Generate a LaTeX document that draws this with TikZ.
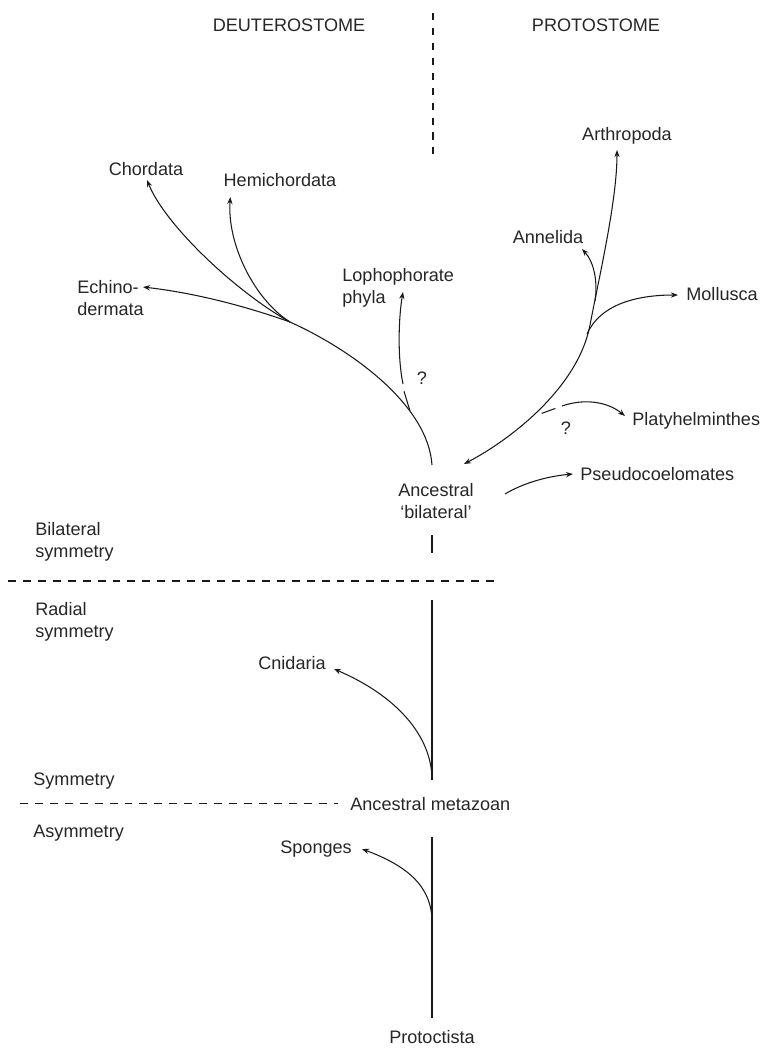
\documentclass[tikz,border=0pt]{standalone}
\usepackage{fontspec}
\setmainfont{Liberation Sans}
\usetikzlibrary{arrows.meta}
\newcommand{\twolines}[2][l]{\begin{tabular}[t]{@{}#1@{}}#2\end{tabular}}
\begin{document}
\begin{tikzpicture}[
    x=0.02cm, y=-0.02cm,
    taxon/.style={font=\fontsize{10.3}{12.6}\selectfont, text=black!85, inner sep=0pt},
    branch/.style={line width=0.6pt, black!90},
    arr/.style={branch, -{Stealth[length=4pt,width=3pt]}},
    divider/.style={line width=0.6pt, black!90, dash pattern=on 4.5pt off 4pt}
]
    \useasboundingbox (0,0) rectangle (766,1049);

    % Headings and the split
    \node[taxon, anchor=base] (deut) at (289,31) {DEUTEROSTOME};
    \node[taxon, anchor=base] (prot) at (596,31) {PROTOSTOME};
    \draw[divider, dash pattern=on 4pt off 4.5pt] (433,13) -- (433,155);

    % Taxa
    \node[taxon, anchor=base] (chor) at (146,175) {Chordata};
    \node[taxon, anchor=base] (hemi) at (280,186) {Hemichordata};
    \node[taxon, anchor=base west] (echi) at (77,293) {\twolines{Echino-\\dermata}};
    \node[taxon, anchor=base west] (loph) at (342,281) {\twolines{Lophophorate\\phyla}};
    \node[taxon, anchor=base] (q1) at (422,384) {?};
    \node[taxon, anchor=base] (arth) at (627,140) {Arthropoda};
    \node[taxon, anchor=base] (anne) at (548,243) {Annelida};
    \node[taxon, anchor=base west] (moll) at (686,300) {Mollusca};
    \node[taxon, anchor=base west] (plat) at (632,425) {Platyhelminthes};
    \node[taxon, anchor=base] (q2) at (566,434) {?};
    \node[taxon, anchor=base west] (pseu) at (580,480) {Pseudocoelomates};
    \node[taxon, anchor=base] (anbi) at (436,496) {\twolines[c]{Ancestral\\`bilateral'}};
    \node[taxon, anchor=base west] (cnid) at (258,669) {Cnidaria};
    \node[taxon, anchor=base west] (anme) at (350,810) {Ancestral metazoan};
    \node[taxon, anchor=base west] (spon) at (280,853) {Sponges};
    \node[taxon, anchor=base] (prtc) at (432,1043) {Protoctista};

    % Body plan levels
    \node[taxon, anchor=base west] (bila) at (35,535) {\twolines{Bilateral\\symmetry}};
    \node[taxon, anchor=base west] (radi) at (35,615) {\twolines{Radial\\symmetry}};
    \node[taxon, anchor=base west] (symm) at (33,785) {Symmetry};
    \node[taxon, anchor=base west] (asym) at (33,837) {Asymmetry};
    \draw[divider] (8,581) -- (497,581);
    \draw[divider] (20,0 |- anme.west) -- ([shift={(-12,0)}]anme.west);

    % Branch points
    \coordinate (djn) at (290,322);
    \coordinate (pjn) at (590,325);
    \coordinate (lophb) at (410,411);
    \coordinate (lophm) at (403,388);
    \coordinate (platb) at (540,414);
    \coordinate (platm) at (562,406);

    % Deuterostome side
    \draw[branch] ([shift={(-4,-31)}]anbi.base) .. controls (428,405) and (352,350) .. (djn);
    \draw[arr] (djn) .. controls (236,292) and (165,225) .. ([shift={(1,5)}]chor.base);
    \draw[arr] (djn) .. controls (255,300) and (227,245) .. ([shift={(7,11)}]hemi.base west);
    \draw[arr] (djn) .. controls (245,306) and (195,293) .. ([shift={(66,-6)}]echi.base west);
    \draw[branch, shorten >=2pt] (lophb) -- (lophm);
    \draw[arr] ([shift={(0,-4)}]lophm) .. controls (397,355) and (399,315) .. ([shift={(61,11)}]loph.base west);

    % Protostome side
    \draw[branch, {Stealth[length=4pt,width=3pt]}-{Stealth[length=4pt,width=3pt]}]
        ([shift={(28,-32)}]anbi.base) .. controls (510,440) and (578,388) .. (pjn)
        .. controls (600,273) and (617,200) .. ([shift={(-10,10)}]arth.base);
    \draw[arr] (595,301) .. controls (598,282) and (594,262) .. ([shift={(34,6)}]anne.base);
    \draw[arr] (587,334) .. controls (600,305) and (635,295) .. ([shift={(-8,-5)}]moll.base west);
    \draw[branch, shorten <=1pt, shorten >=4pt] (platb) -- (platm);
    \draw[arr] (platm) .. controls (585,398) and (608,402) .. ([shift={(-7,-9)}]plat.base west);
    \draw[arr] ([shift={(69,-2)}]anbi.base) .. controls (525,482) and (550,476) .. ([shift={(-7,-6)}]pseu.base west);
    \draw[branch] ([shift={(-4,39)}]anbi.base) -- ++(0,18);

    % Radiata and sponges
    \draw[branch] (432,600) -- (432,780);
    \draw[arr] (432,780) .. controls (432,735) and (395,695) .. ([shift={(76,0)}]cnid.base west);
    \draw[branch] (432,837) -- ([shift={(0,-25)}]prtc.base);
    \draw[arr] (432,922) .. controls (432,885) and (405,865) .. ([shift={(82,-4)}]spon.base west);
\end{tikzpicture}
\end{document}
